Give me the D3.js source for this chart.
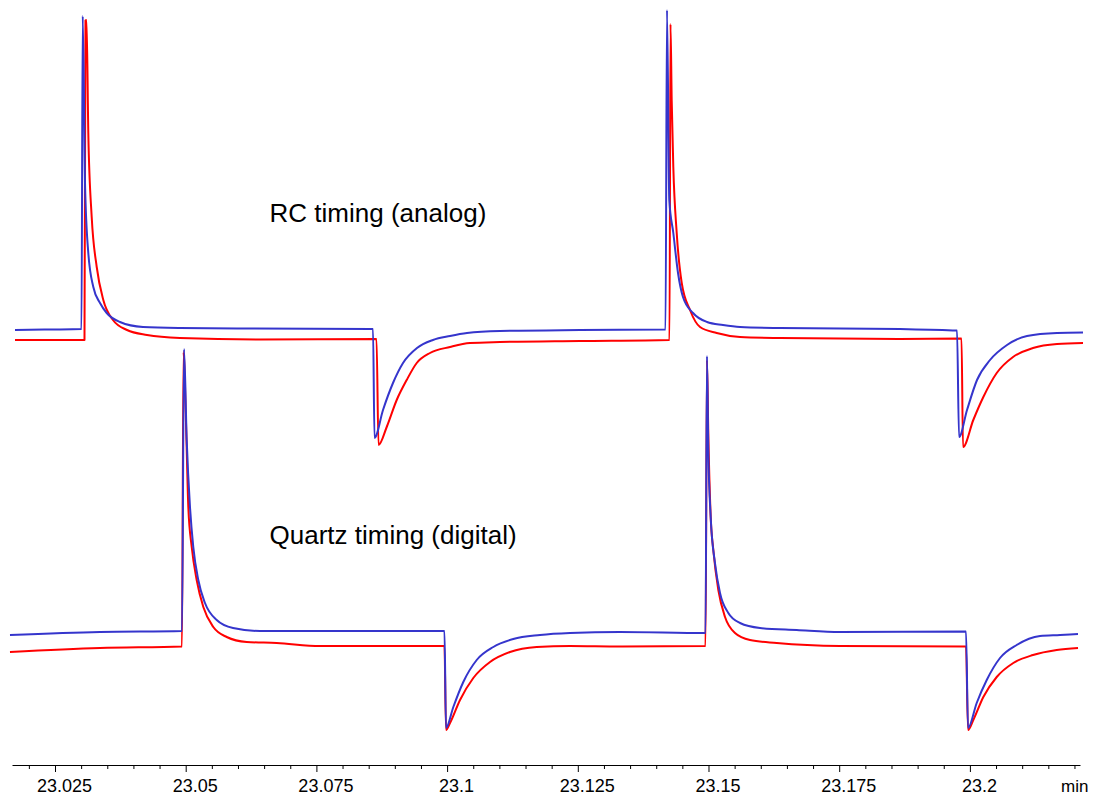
<!DOCTYPE html>
<html>
<head>
<meta charset="utf-8">
<script src="https://cdn.jsdelivr.net/npm/d3@7"></script>
<style>
  html, body { margin: 0; padding: 0; background: #fff; }
  svg { display: block; }
  text { font-family: "Liberation Sans", Arial, sans-serif; fill: #000; }
</style>
</head>
<body>
<svg id="chart" width="1095" height="795"></svg>
<script>
// ---- data (time in min, signal in arbitrary units) ----
const rcBlue = [
  [23.01735,435],[23.02404,435.5],[23.03007,436],[23.03030,749],[23.03074,582],[23.03137,512],
  [23.03233,478],[23.03361,462],[23.03489,452],[23.03743,443],[23.04183,438],[23.04891,437],
  [23.06230,436.5],[23.08564,436],[23.08583,436],[23.08611,327],[23.08774,355],[23.08965,382],
  [23.09157,402],[23.09424,417],[23.09730,425],[23.10056,429],[23.10381,432],[23.11012,434],
  [23.12542,435],[23.14178,435.5],[23.14206,755],[23.14250,565],[23.14327,532],[23.14417,492],
  [23.14512,468],[23.14704,452],[23.14971,443],[23.15278,440],[23.15603,438],[23.16368,437],
  [23.18663,436],[23.19754,434.5],[23.19792,328],[23.19945,355],[23.20136,385],[23.20385,405],
  [23.20710,420],[23.21092,429],[23.21666,432],[23.22164,432.5]
];
const rcRed = [
  [23.01735,425],[23.03064,425],[23.03083,744.5],[23.03103,745],[23.03137,632],[23.03202,548],
  [23.03298,498],[23.03424,465],[23.03609,445],[23.03877,435],[23.04260,430],[23.04891,427],
  [23.06421,425.5],[23.08650,426],[23.08688,320],[23.08845,338],[23.09036,365],[23.09227,385],
  [23.09419,402],[23.09673,412],[23.10056,418],[23.10438,422],[23.11012,423],[23.12542,424],
  [23.14254,425],[23.14273,741],[23.14296,665],[23.14327,598],[23.14392,532],[23.14488,482],
  [23.14646,455],[23.14838,438],[23.15157,432],[23.15603,428],[23.16368,427],[23.18663,426],
  [23.19840,426.5],[23.19868,318],[23.20065,345],[23.20257,368],[23.20513,392],[23.20825,408],
  [23.21207,417],[23.21666,421],[23.22164,422]
];
const qzBlue = [
  [23.01639,130],[23.03361,133],[23.04929,134],[23.04968,416],[23.05019,325],[23.05082,258],
  [23.05145,218],[23.05241,185],[23.05369,162],[23.05593,145],[23.05905,137],[23.06421,134],
  [23.07569,134],[23.09950,134],[23.09979,37],[23.10119,58],[23.10310,83],[23.10566,105],
  [23.10884,118],[23.11266,126],[23.11777,130],[23.12351,132],[23.13307,133],[23.14943,132],
  [23.14971,409],[23.14996,315],[23.15042,248],[23.15124,202],[23.15220,172],[23.15379,152],
  [23.15603,142],[23.15985,137],[23.16687,135],[23.17516,133],[23.19926,133.5],[23.19964,37],
  [23.20130,62],[23.20322,85],[23.20576,107],[23.20895,120],[23.21341,129],[23.21724,130],
  [23.22068,131]
];
const qzRed = [
  [23.01639,113],[23.03361,117],[23.04929,118.5],[23.04958,413],[23.05006,342],[23.05050,258],
  [23.05115,218],[23.05210,185],[23.05337,158],[23.05528,138],[23.05784,128],[23.06167,123],
  [23.06741,122],[23.07569,119],[23.09950,119],[23.09979,35],[23.10056,42],[23.10247,65],
  [23.10501,87],[23.10821,103],[23.11203,113],[23.11714,118],[23.12351,119],[23.13307,118.5],
  [23.14943,119],[23.14971,405],[23.14996,332],[23.15042,248],[23.15092,215],[23.15188,175],
  [23.15316,148],[23.15507,132],[23.15794,125],[23.16305,122],[23.17516,119],[23.19926,118.5],
  [23.19964,35],[23.20065,45],[23.20257,68],[23.20513,88],[23.20830,102],[23.21207,110],
  [23.21661,115],[23.22068,117]
];
const majorTicks = [23.025, 23.05, 23.075, 23.1, 23.125, 23.15, 23.175, 23.2];
const tickLabels = ["23.025", "23.05", "23.075", "23.1", "23.125", "23.15", "23.175", "23.2"];
const minorTicks = [23.02, 23.03, 23.035, 23.04, 23.045, 23.055, 23.06, 23.065, 23.07,
  23.08, 23.085, 23.09, 23.095, 23.105, 23.11, 23.115, 23.12, 23.13, 23.135, 23.14, 23.145,
  23.155, 23.16, 23.165, 23.17, 23.18, 23.185, 23.19, 23.195, 23.205, 23.21, 23.215, 23.22];
const xDomain = [23.016775, 23.22106];
const yDomain = [0, 760];
const unitLabel = "min";
const annotations = [
  { text: "RC timing (analog)", t: 23.06604, v: 543 },
  { text: "Quartz timing (digital)", t: 23.06604, v: 221 }
];

// ---- drawing ----
const svg = d3.select("#chart");
const x = d3.scaleLinear().domain(xDomain).range([12, 1080]);
const y = d3.scaleLinear().domain(yDomain).range([765, 5]);

const line = d3.line().curve(d3.curveMonotoneX).x(d => x(d[0])).y(d => y(d[1]));

const traces = [
  { data: rcRed, color: "#ff0000" },
  { data: rcBlue, color: "#3535cc" },
  { data: qzRed, color: "#ff0000" },
  { data: qzBlue, color: "#3535cc" }
];
svg.append("g").selectAll("path").data(traces).join("path")
  .attr("d", d => line(d.data))
  .attr("fill", "none")
  .attr("stroke", d => d.color)
  .attr("stroke-width", 2)
  .attr("stroke-linejoin", "round");

// minor ticks
svg.append("g")
  .attr("transform", "translate(0,765)")
  .call(d3.axisBottom(x).tickValues(minorTicks).tickSize(4).tickSizeOuter(0).tickFormat(""))
  .call(g => g.select(".domain").remove())
  .call(g => g.selectAll("line").attr("stroke", "#000"));

// major axis
const ax = svg.append("g")
  .attr("transform", "translate(0,765)")
  .call(d3.axisBottom(x).tickValues(majorTicks).tickSize(7).tickSizeOuter(0)
    .tickFormat((d, i) => tickLabels[i]));
ax.select(".domain").attr("stroke", "#000").attr("stroke-width", 1);
ax.selectAll(".tick line").attr("stroke", "#000");
ax.selectAll(".tick text")
  .attr("y", 0).attr("dy", 0)
  .attr("transform", "translate(9,27)")
  .style("font-family", "'Liberation Sans', Arial, sans-serif")
  .style("font-size", "18px")
  .attr("fill", "#000");

svg.append("text")
  .attr("x", 1061).attr("y", 792)
  .style("font-size", "17px")
  .text(unitLabel);

svg.append("g").selectAll("text").data(annotations).join("text")
  .attr("x", d => x(d.t)).attr("y", d => y(d.v))
  .style("font-size", "26px")
  .text(d => d.text);
</script>
</body>
</html>
